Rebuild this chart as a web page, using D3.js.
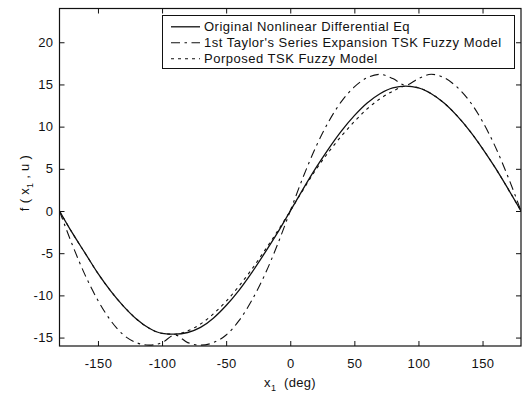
<!DOCTYPE html>
<html><head><meta charset="utf-8">
<script src="https://cdn.jsdelivr.net/npm/d3@7"></script>
<style>body{margin:0;background:#fff}svg{display:block}text{font-family:"Liberation Sans",Arial,sans-serif;fill:#111}</style>
</head><body><svg id="c" width="522" height="396"></svg>
<script>
const xs = [-180,-170,-160,-150,-140,-130,-120,-110,-100,-90,-80,-70,-60,-50,-40,-30,-20,-10,0,10,20,30,40,50,60,70,80,90,100,110,120,130,140,150,160,170,180];
const original = [0,-2.6,-5.0,-7.4,-9.5,-11.3,-12.8,-13.9,-14.5,-14.6,-14.4,-13.8,-12.7,-11.2,-9.4,-7.3,-5.0,-2.6,0,2.6,5.1,7.4,9.5,11.3,12.8,13.9,14.6,14.8,14.6,13.9,12.8,11.3,9.5,7.4,5.1,2.6,0];
const taylor = [0,-4.0,-7.6,-10.6,-13.0,-14.7,-15.6,-15.9,-15.6,-14.7,-15.6,-15.9,-15.6,-14.7,-13.0,-10.6,-7.6,-4.0,0,4.0,7.6,10.6,13.0,14.7,15.8,16.2,15.7,14.9,15.7,16.2,15.8,14.7,13.0,10.6,7.6,4.0,0];
const proposed = [0,-2.6,-5.0,-7.4,-9.5,-11.3,-12.8,-13.9,-14.5,-14.6,-14.2,-13.4,-12.2,-10.7,-8.9,-6.9,-4.7,-2.4,0,2.5,4.9,7.0,8.9,10.6,12.1,13.3,14.2,14.8,14.6,13.9,12.8,11.3,9.5,7.4,5.1,2.6,0];
const xTicks = [-150,-100,-50,0,50,100,150];
const yTicks = [-15,-10,-5,0,5,10,15,20];
const seriesNames = ["Original Nonlinear Differential Eq","1st Taylor's Series Expansion TSK Fuzzy Model","Porposed TSK Fuzzy Model"];

const svg = d3.select("#c");
const L=59.5, R=521, T=8.5, B=346;
const x = d3.scaleLinear().domain([-180,180]).range([L,R]);
const y = d3.scaleLinear().domain([-16,24]).range([B,T]);

const styles = [
  {dash:null, w:1.3},
  {dash:"9,4.5,2.5,4.5", w:1.1},
  {dash:"3,4", w:1.1}
];
const data = [original, taylor, proposed];

svg.append("defs").append("clipPath").attr("id","cp").append("rect").attr("x",L).attr("y",T-1).attr("width",R-L).attr("height",B-T+2);

const fs = "13px";
const fmt = d => String(d);
const gB = svg.append("g").attr("transform",`translate(0,${B})`).call(d3.axisBottom(x).tickValues(xTicks).tickFormat(fmt).tickSizeInner(-5).tickSizeOuter(0).tickPadding(13));
const gT = svg.append("g").attr("transform",`translate(0,${T})`).call(d3.axisTop(x).tickValues(xTicks).tickSizeInner(-5).tickSizeOuter(0).tickFormat(""));
const gL = svg.append("g").attr("transform",`translate(${L},0)`).call(d3.axisLeft(y).tickValues(yTicks).tickFormat(fmt).tickSizeInner(-5).tickSizeOuter(0).tickPadding(6));
const gR = svg.append("g").attr("transform",`translate(${R},0)`).call(d3.axisRight(y).tickValues(yTicks).tickSizeInner(-5).tickSizeOuter(0).tickFormat(""));
[gB,gT,gL,gR].forEach(g=>{g.selectAll("path.domain").remove();g.selectAll("line").attr("stroke","#111").attr("stroke-width",1);g.selectAll("text").style("font-size",fs).style("letter-spacing","0.4px").attr("fill","#111").style("font-family","'Liberation Sans',Arial,sans-serif");});
svg.append("rect").attr("x",L).attr("y",T).attr("width",R-L).attr("height",B-T).attr("fill","none").attr("stroke","#111").attr("stroke-width",1.2);

const line = d3.line().x((d,i)=>x(xs[i])).y(d=>y(d)).curve(d3.curveMonotoneX);
const gl = svg.append("g").attr("clip-path","url(#cp)");
data.forEach((arr,k)=>{
  gl.append("path").attr("d",line(arr)).attr("fill","none").attr("stroke","#111")
    .attr("stroke-width",styles[k].w).attr("stroke-dasharray",styles[k].dash);
});

const lg = svg.append("g");
lg.append("rect").attr("x",162.5).attr("y",15.5).attr("width",352).attr("height",53).attr("fill","#fff").attr("stroke","#111").attr("stroke-width",1);
seriesNames.forEach((n,k)=>{
  const yy = 26.8 + k*16;
  lg.append("line").attr("x1",171).attr("x2",200).attr("y1",yy).attr("y2",yy).attr("stroke","#111")
    .attr("stroke-width",styles[k].w).attr("stroke-dasharray",styles[k].dash);
  lg.append("text").attr("x",204).attr("y",yy+4.5).style("font-size","13px").style("letter-spacing","0.5px").text(n);
});

const xl = svg.append("text").attr("x",290).attr("y",387).attr("text-anchor","middle").style("font-size","13px").style("letter-spacing","0.3px");
xl.append("tspan").text("x");
xl.append("tspan").attr("dy",4).style("font-size","9px").text("1");
xl.append("tspan").attr("dy",-4).attr("xml:space","preserve").text("  (deg)");
const yl = svg.append("text").attr("transform","translate(29,183) rotate(-90)").attr("text-anchor","middle").style("font-size","13px").style("letter-spacing","0.3px");
yl.append("tspan").text("f ( x");
yl.append("tspan").attr("dy",4).style("font-size","9px").text("1");
yl.append("tspan").attr("dy",-4).text(" , u )");
</script></body></html>
